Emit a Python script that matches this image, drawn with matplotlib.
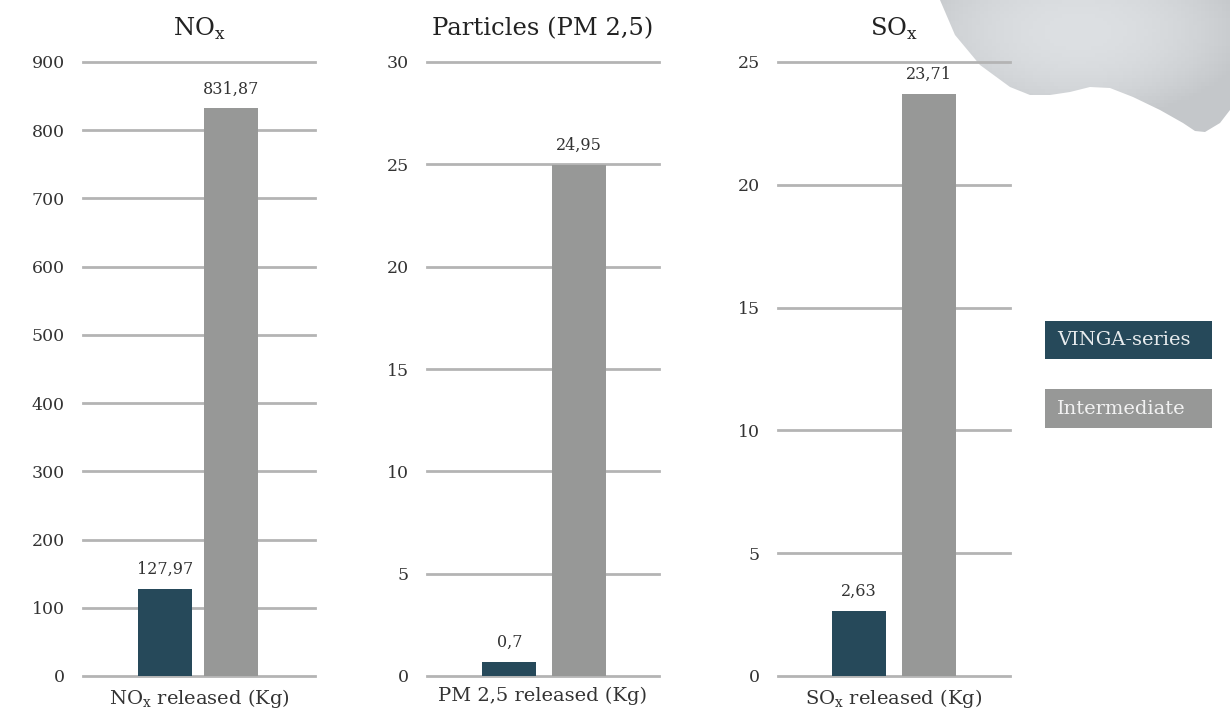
import numpy as np
import matplotlib.pyplot as plt
from matplotlib.patches import PathPatch, Rectangle
from matplotlib.path import Path
from matplotlib.colors import to_rgb

plt.rcParams['font.family'] = ['DejaVu Serif', 'Liberation Serif']
plt.rcParams['text.color'] = '#333333'

# data
series = ["VINGA-series", "Intermediate"]
titles = ["NO$_{\\mathregular{x}}$", "Particles (PM 2,5)", "SO$_{\\mathregular{x}}$"]
xlabels = ["NO$_{\\mathregular{x}}$ released (Kg)", "PM 2,5 released (Kg)",
           "SO$_{\\mathregular{x}}$ released (Kg)"]
vinga = [127.97, 0.7, 2.63]
intermediate = [831.87, 24.95, 23.71]
value_labels = [["127,97", "831,87"], ["0,7", "24,95"], ["2,63", "23,71"]]
ymax = [900, 30, 25]
ysteps = [100, 5, 5]

NAVY = "#26495a"
GRAY = "#979897"
GRID = "#b4b4b4"

fig = plt.figure(figsize=(12.3, 7.13), dpi=100)
W, H = 1230, 713

# decorative blob at top right (behind everything), light grey gradient
pts = [(940, 0), (955, 35), (980, 65), (1010, 87), (1030, 95), (1050, 95),
       (1070, 92), (1090, 87), (1110, 88), (1133, 97), (1160, 110),
       (1183, 123), (1195, 131), (1205, 132), (1220, 123), (1230, 110),
       (1230, 0), (940, 0)]
codes = [Path.MOVETO] + [Path.LINETO] * (len(pts) - 2) + [Path.CLOSEPOLY]
verts = [(x / W, 1 - y / H) for x, y in pts]
blob = PathPatch(Path(verts, codes), transform=fig.transFigure,
                 facecolor="none", edgecolor="none")
fig.add_artist(blob)
bg = fig.add_axes([0, 0, 1, 1], zorder=-1)
bg.set_axis_off()
gx, gy = np.meshgrid(np.linspace(0, W, 300), np.linspace(0, H, 200))
t = np.clip(np.hypot((gx - 1080) / 170, (gy - 30) / 90), 0, 1)[..., None]
c_in, c_out = np.array(to_rgb("#dde0e3")), np.array(to_rgb("#c4c7ca"))
img = c_in * (1 - t ** 2) + c_out * t ** 2
bg.imshow(img, extent=[0, 1, 0, 1], origin="upper", aspect="auto",
          transform=fig.transFigure, clip_path=blob)
bg.set_xlim(0, 1)
bg.set_ylim(0, 1)

lefts = [83, 427, 778]
ax_w = 232
top, bottom = 62, 676
xlims = [(-1.24, 2.27), (-1.19, 2.16), (-1.15, 2.16)]
widths = [0.82, 0.78, 0.77]

for i in range(3):
    ax = fig.add_axes([lefts[i] / W, 1 - bottom / H, ax_w / W, (bottom - top) / H])
    ax.patch.set_alpha(0)
    vals = [vinga[i], intermediate[i]]
    bars = ax.bar([0, 1], vals, width=widths[i], color=[NAVY, GRAY], zorder=3)
    for b, lab in zip(bars, value_labels[i]):
        ax.annotate(lab, (b.get_x() + b.get_width() / 2, b.get_height()),
                    xytext=(0, 8), textcoords="offset points",
                    ha="center", va="bottom", fontsize=11.5, color="#333333")
    ax.set_xlim(*xlims[i])
    ax.set_ylim(0, ymax[i])
    ax.set_yticks(range(0, ymax[i] + 1, ysteps[i]))
    ax.yaxis.grid(True, color=GRID, linewidth=2, zorder=0)
    for gl in ax.get_ygridlines():
        gl.set_clip_on(False)
    ax.set_axisbelow(True)
    for s in ax.spines.values():
        s.set_visible(False)
    ax.set_xticks([])
    ax.tick_params(axis="y", length=0, pad=13, labelsize=12.5, labelcolor="#333333")
    ax.set_title(titles[i], fontsize=17.5, pad=19, color="#222222")
    ax.set_xlabel(xlabels[i], fontsize=14, labelpad=8, color="#333333")

# legend boxes
for (y0, y1), name, col, tcol in [((321, 359), series[0], NAVY, "#e8ecee"),
                                  ((389, 428), series[1], GRAY, "#f2f2f2")]:
    fig.patches.append(Rectangle((1045 / W, 1 - y1 / H), 167 / W, (y1 - y0) / H,
                                 transform=fig.transFigure, facecolor=col,
                                 edgecolor="none"))
    fig.text(1057 / W, 1 - (y0 + y1) / 2 / H, name, fontsize=14, color=tcol,
             va="center", ha="left")

plt.savefig("out.png", dpi=100)
